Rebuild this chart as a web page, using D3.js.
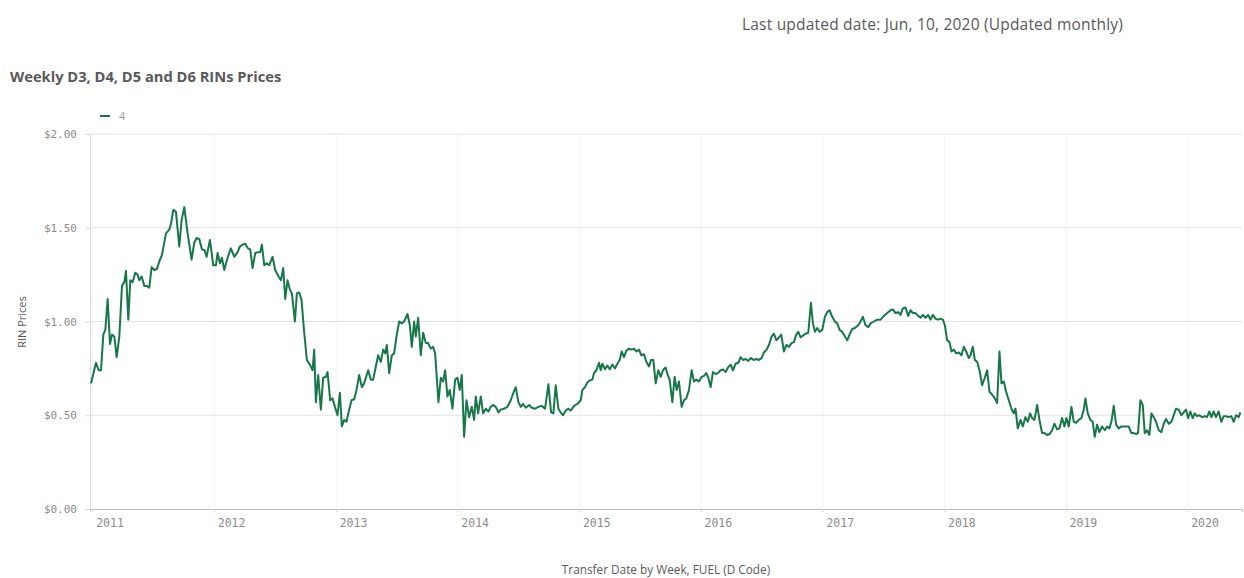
<!DOCTYPE html>
<html>
<head>
<meta charset="utf-8">
<script src="https://cdn.jsdelivr.net/npm/d3@7"></script>
<style>
  body { margin: 0; background: #fff; }
  svg { display: block; }
  text { font-family: "Open Sans", "Noto Sans", sans-serif; }
</style>
</head>
<body>
<svg id="chart" width="1244" height="578"></svg>
<script>
// weekly D4 observations: days since 2011-01-01, price in $
var firstDay = new Date(2011, 0, 1);
var dayOffset = [
  -5,10,18,25,32,38,45,52,58,65, 72,80,88,95,100,107,113,120,128,135,
  140,147,155,162,170,177,185,193,200,208, 220,230,235,242,250,260,267,275,285,297,
  305,312,320,328,336,342,352,362,370,375, 382,388,395,405,415,425,435,442,450,458,
  466,473,480,488,496,503,508,515,522,530, 540,548,558,565,572,578,585,592,598,607,
  613,620,627,635,643,652,660,665,670,677, 685,692,700,705,713,720,728,735,742,748,
  755,762,770,777,785,792,800,808,815,820, 827,835,842,850,857,865,872,878,883,890,
  898,905,912,920,928,935,945,952,958,965, 970,977,985,992,1000,1007,1015,1022,1028,1038,
  1045,1052,1058,1065,1072,1080,1088,1095,1102,1108, 1115,1122,1130,1138,1145,
  1150,1157,1165,1172,1180,1188,1195,1202,1210,1218, 1225,1235,1245,1255,1262,1270,1278,1285,1292,1300,
  1310,1318,1328,1338,1348,1358,1368,1376,1383,1390, 1398,1405,1412,1420,1428,1435,1445,1455,1465,1470,
  1478,1485,1492,1500,1505,1512,1520,1525,1530,1538, 1545,1552,1560,1568,1575,1582,1588,1595,1602,1610,
  1618,1625,1633,1640,1647,1655,1662,1670,1676,1683, 1690,1698,1705,1712,1720,1726,1732,1740,1747,1753,
  1760,1768,1775,1782,1790,1798,1805,1812,1820,1828, 1835,1842,1848,1855,1862,1870,1877,1885,1892,1900,
  1907,1915,1922,1930,1938,1945,1952,1960,1968,1976, 1984,1992,2000,2008,2015,2023,2030,2038,2045,2052,
  2060,2067,2075,2082,2090,2098,2105,2112,2118,2125, 2132,2140,2148,2156,2162,2168,2175,2182,2190,2198,
  2205,2212,2220,2228,2235,2242,2250,2258,2265,2272, 2280,2288,
  2298,2305,2312,2320,2328,2335,2345,2355,2365,2375, 2385,2395,2402,2410,2418,2425,2432,2440,2448,2455,
  2462,2470,2478,2485,2492,2500,2508,2515,2522,2530, 2538,2545,2552,2558,2565,2572,2578,2585,2592,2600,
  2608,2615,2622,2630,2635,2642,2648,2655,2662,2670, 2678,2685,2692,2700,2708,2715,2722,2728,2735,2742,
  2750,2758,2765,2770,2777,2785,2792,2800,2807,2814, 2820,2827,2835,2842,2850,2857,2865,2873,2880,2887,
  2895,2902,2910,2917,2923,2930,2938,2945,2952,2960, 2968,2975,2980,2987,2995,3002,3008,3015,3022,3030,
  3038,3045,3052,3058,3065,3072,3080,3087,3095,3102, 3110,3118,3125,3132,3138,3145,3152,3158,3165,3172,
  3178,3185,3192,3200,3208,3215,3222,3230,3238,3245, 3252,3260,3268,3275,3282,3288,3295,3302,3308,3315,
  3322,3330,3338,3345,3352,3358,3365,3372,3380,3388, 3395,3402,3410,3418,3425,3432,3440,3445
];
var price = [
  0.67,0.78,0.74,0.74,0.93,0.955,1.12,0.88,0.93,0.92, 0.81,0.92,1.19,1.21,1.27,1.01,1.22,1.21,1.26,1.25,
  1.22,1.24,1.19,1.19,1.18,1.29,1.275,1.28,1.32,1.355, 1.47,1.49,1.52,1.595,1.585,1.40,1.54,1.61,1.47,1.33,
  1.42,1.445,1.44,1.385,1.38,1.345,1.435,1.30,1.30,1.365, 1.31,1.34,1.275,1.34,1.39,1.345,1.37,1.40,1.41,1.415,
  1.39,1.385,1.285,1.365,1.37,1.37,1.41,1.30,1.31,1.30, 1.345,1.275,1.24,1.22,1.285,1.12,1.22,1.17,1.15,1.00,
  1.15,1.155,1.115,0.94,0.795,0.77,0.74,0.85,0.57,0.715, 0.53,0.70,0.705,0.73,0.58,0.59,0.54,0.50,0.62,0.44,
  0.475,0.465,0.53,0.58,0.585,0.635,0.715,0.65,0.67,0.70, 0.74,0.69,0.69,0.76,0.82,0.785,0.85,0.83,0.875,0.725,
  0.82,0.83,0.92,1.00,0.99,1.00,1.04,0.98,0.865,1.00, 0.92,1.02,0.82,0.94,0.885,0.885,0.855,0.865,0.83,0.57,
  0.70,0.68,0.74,0.60,0.635,0.535,0.69,0.70,0.635,0.715, 0.385,0.58,0.49,0.545,0.475,
  0.60,0.51,0.60,0.51,0.535,0.52,0.545,0.555,0.545,0.515, 0.53,0.535,0.545,0.58,0.615,0.65,0.57,0.545,0.56,0.54,
  0.555,0.54,0.535,0.545,0.55,0.535,0.665,0.515,0.51,0.66, 0.535,0.515,0.50,0.525,0.535,0.525,0.55,0.56,0.58,0.635,
  0.65,0.675,0.685,0.69,0.725,0.74,0.78,0.74,0.775,0.745, 0.765,0.745,0.77,0.75,0.775,0.795,0.84,0.81,0.845,0.855,
  0.85,0.855,0.84,0.85,0.82,0.825,0.785,0.76,0.795,0.795, 0.67,0.74,0.705,0.74,0.755,0.715,0.69,0.57,0.705,0.635,
  0.68,0.545,0.58,0.59,0.635,0.74,0.68,0.69,0.68,0.705, 0.71,0.725,0.70,0.65,0.73,0.72,0.725,0.74,0.745,0.73,
  0.755,0.77,0.74,0.775,0.78,0.81,0.795,0.80,0.79,0.805, 0.795,0.80,0.795,0.805,0.835,0.85,0.875,0.92,0.935,0.90,
  0.915,0.93,0.84,0.875,0.865,0.885,0.89,0.93,0.945,0.915, 0.925,0.935,0.94,1.10,0.99,0.945,0.965,0.945,0.955,1.025,
  1.05,1.06,1.025,1.00,0.99,0.955,0.945,0.92,0.90,0.93, 0.96,0.965,
  0.98,1.00,1.025,0.98,0.97,0.99,1.00,1.01,1.01,1.03, 1.045,1.06,1.065,1.045,1.05,1.035,1.07,1.075,1.03,1.06,
  1.045,1.045,1.03,1.02,1.035,1.02,1.035,1.01,1.035,1.015, 1.01,1.015,1.01,0.98,0.90,0.89,0.84,0.85,0.83,0.835,
  0.82,0.865,0.84,0.805,0.82,0.865,0.795,0.785,0.74,0.66, 0.70,0.74,0.625,0.61,0.59,0.565,0.84,0.67,0.68,0.625,
  0.58,0.535,0.51,0.535,0.43,0.475,0.44,0.49,0.465,0.51, 0.485,0.475,0.555,0.475,0.405,0.405,0.395,0.40,0.42,0.455,
  0.425,0.43,0.485,0.44,0.485,0.44,0.545,0.465,0.46,0.475, 0.485,0.53,0.59,0.51,0.475,0.465,0.385,0.45,0.41,0.44,
  0.42,0.44,0.43,0.465,0.55,0.45,0.43,0.44,0.44,0.44, 0.44,0.405,0.405,0.40,0.405,0.58,0.555,0.405,0.42,0.395,
  0.51,0.49,0.465,0.42,0.41,0.455,0.48,0.455,0.465,0.50, 0.535,0.53,0.50,0.515,0.53,0.485,0.52,0.485,0.51,0.495,
  0.50,0.49,0.495,0.49,0.52,0.49,0.52,0.49,0.52,0.465, 0.495,0.495,0.49,0.495,0.465,0.50,0.49,0.515
];
var yTicks = [0, 0.5, 1, 1.5, 2];
var yearLabels = [2011, 2012, 2013, 2014, 2015, 2016, 2017, 2018, 2019, 2020];
var seriesName = "4";

(function() {
    var svg = d3.select("#chart");
    var plotLeft = 90, plotRight = 1242, plotTop = 134, plotBottom = 509;
    var green = "#17774a";
    var grey = "#595959";

    var x = d3.scaleTime()
        .domain([new Date(2010, 11, 24), new Date(2020, 5, 12)])
        .range([plotLeft, plotRight]);
    var y = d3.scaleLinear().domain([0, 2]).range([plotBottom, plotTop]);

    var data = d3.zip(dayOffset, price).map(function(p) {
        return { date: d3.timeDay.offset(firstDay, p[0]), price: p[1] };
    });

    // header texts
    svg.append("text")
        .attr("x", 742).attr("y", 30)
        .style("font-size", "15.5px").style("letter-spacing", "0.2px").style("fill", grey)
        .text("Last updated date: Jun, 10, 2020 (Updated monthly)");

    svg.append("text")
        .attr("x", 10).attr("y", 82)
        .style("font-size", "14.7px").style("font-weight", "bold").style("fill", grey)
        .text("Weekly D3, D4, D5 and D6 RINs Prices");

    // legend
    svg.append("line")
        .attr("x1", 100).attr("x2", 110).attr("y1", 116).attr("y2", 116)
        .style("stroke", green).style("stroke-width", 2);
    svg.append("text")
        .attr("x", 119).attr("y", 120)
        .style("font-size", "11px").style("fill", "#999")
        .text(seriesName);

    // faint vertical year grid
    svg.append("g").selectAll("line")
        .data(yearLabels)
        .enter().append("line")
        .attr("x1", function(d) { return x(new Date(d, 0, 1)); })
        .attr("x2", function(d) { return x(new Date(d, 0, 1)); })
        .attr("y1", plotTop).attr("y2", plotBottom)
        .style("stroke", "#f4f4f4");

    // y axis + horizontal grid
    var yAxis = svg.append("g")
        .attr("transform", "translate(" + plotLeft + ",0)")
        .call(d3.axisLeft(y).tickValues(yTicks).tickFormat(d3.format("$.2f")).tickSize(5).tickPadding(8));
    yAxis.select(".domain").style("stroke", "#d9d9d9");
    yAxis.selectAll(".tick line").style("stroke", "#d9d9d9");
    yAxis.selectAll(".tick text")
        .style("font-family", "'DejaVu Sans Mono', monospace")
        .style("font-size", "11px").style("fill", "#8c8c8c");

    svg.append("g").selectAll("line")
        .data(yTicks.filter(function(d) { return d > 0; }))
        .enter().append("line")
        .attr("x1", plotLeft).attr("x2", plotRight)
        .attr("y1", function(d) { return y(d); })
        .attr("y2", function(d) { return y(d); })
        .style("stroke", "#e3e3e3");

    // x axis
    var xAxis = svg.append("g")
        .attr("transform", "translate(0," + plotBottom + ")")
        .call(d3.axisBottom(x)
            .tickValues(yearLabels.map(function(d) { return new Date(d, 0, 1); }))
            .tickFormat(d3.timeFormat("%Y")).tickSize(3).tickPadding(7));
    xAxis.select(".domain").style("stroke", "#bdbdbd");
    xAxis.selectAll(".tick line").style("stroke", "#d9d9d9");
    xAxis.selectAll(".tick text")
        .attr("text-anchor", "start").attr("dx", 3)
        .style("font-family", "'DejaVu Sans Mono', monospace")
        .style("font-size", "11.5px").style("fill", "#8c8c8c");

    // axis titles
    svg.append("text")
        .attr("transform", "translate(26,322) rotate(-90)")
        .attr("text-anchor", "middle")
        .style("font-size", "11px").style("fill", grey)
        .text("RIN Prices");
    svg.append("text")
        .attr("x", 666).attr("y", 574)
        .attr("text-anchor", "middle")
        .style("font-size", "11.8px").style("fill", grey)
        .text("Transfer Date by Week, FUEL (D Code)");

    // price line
    var line = d3.line()
        .x(function(d) { return x(d.date); })
        .y(function(d) { return y(d.price); });

    svg.append("path")
        .datum(data)
        .attr("d", line)
        .style("fill", "none")
        .style("stroke", green)
        .style("stroke-width", 2)
        .style("stroke-linejoin", "round");
})();
</script>
</body>
</html>
